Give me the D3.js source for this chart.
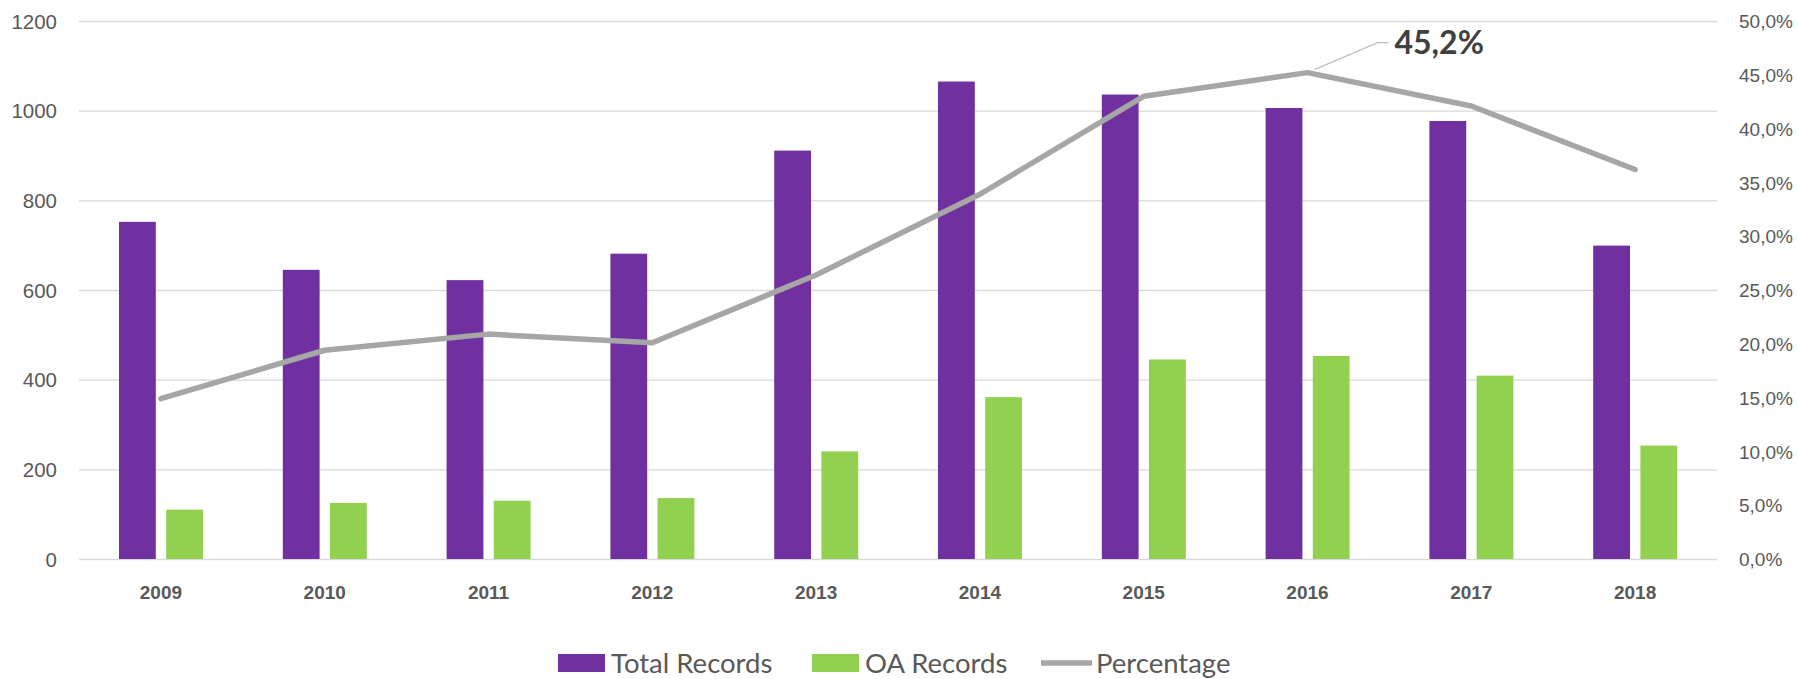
<!DOCTYPE html>
<html>
<head>
<meta charset="utf-8">
<script src="https://cdn.jsdelivr.net/npm/d3@7"></script>
<style>
  html, body { margin: 0; padding: 0; background: #fff; }
  svg { display: block; font-family: Lato, "Open Sans", sans-serif; }
</style>
</head>
<body>
<svg id="chart" width="1798" height="679"></svg>
<script>
const years = ["2009","2010","2011","2012","2013","2014","2015","2016","2017","2018"];
const totalRecords = [752, 645, 622, 681, 911, 1065, 1036, 1006, 977, 699];
const oaRecords = [110, 125, 130, 136, 240, 361, 445, 453, 409, 253];
const percentage = [0.149, 0.194, 0.209, 0.201, 0.264, 0.339, 0.430, 0.452, 0.421, 0.362];
const leftTicks = [0, 200, 400, 600, 800, 1000, 1200];
const rightTicks = [0, 0.05, 0.10, 0.15, 0.20, 0.25, 0.30, 0.35, 0.40, 0.45, 0.50];
const seriesNames = ["Total Records", "OA Records", "Percentage"];
const highlightIndex = 7;

(function () {
const colors = { total: "#7030a0", oa: "#92d050", line: "#a6a6a6", grid: "#d9d9d9", text: "#595959" };

const svg = d3.select("#chart");
const mLeft = 79, mRight = 1717, mTop = 21, mBottom = 559;

const x = d3.scaleBand().domain(years).range([mLeft, mRight]).paddingInner(0).paddingOuter(0);
const xSub = d3.scaleBand().domain(["total", "oa"]).range([40, 124]).paddingInner(0.22).paddingOuter(0);
const y = d3.scaleLinear().domain([0, 1200]).range([mBottom, mTop]);
const yPct = d3.scaleLinear().domain([0, 0.5]).range([mBottom, mTop]);

const locale = d3.formatLocale({ decimal: ",", thousands: ".", grouping: [3], currency: ["", "€"] });
const pctFmt = locale.format(".1%");

// gridlines
svg.append("g")
  .attr("transform", `translate(${mLeft},0)`)
  .call(d3.axisLeft(y).tickValues(leftTicks).tickSize(-(mRight - mLeft)).tickFormat(""))
  .call(g => g.select(".domain").remove())
  .call(g => g.selectAll("line").attr("stroke", colors.grid).attr("stroke-width", 1.3));

// left axis labels
svg.append("g")
  .attr("transform", `translate(${mLeft - 4},0)`)
  .call(d3.axisLeft(y).tickValues(leftTicks).tickSize(0).tickPadding(18).tickFormat(d3.format("d")))
  .call(g => g.select(".domain").remove())
  .call(g => g.selectAll("text").attr("fill", colors.text).style("font-size", "20.5px").attr("dy", "0.35em"));

// right axis labels
svg.append("g")
  .attr("transform", `translate(${mRight},0)`)
  .call(d3.axisRight(yPct).tickValues(rightTicks).tickSize(0).tickPadding(22).tickFormat(pctFmt))
  .call(g => g.select(".domain").remove())
  .call(g => g.selectAll("text").attr("fill", colors.text).style("font-size", "19px").attr("dy", "0.35em"));

// x axis labels
svg.append("g")
  .attr("transform", `translate(0,${mBottom})`)
  .call(d3.axisBottom(x).tickSize(0).tickPadding(40))
  .call(g => g.select(".domain").remove())
  .call(g => g.selectAll("text").attr("fill", colors.text).style("font-size", "19px").style("font-weight", "bold").attr("dy", "0"));

// bars
const bars = svg.append("g");
bars.selectAll("rect.total").data(years).join("rect")
  .attr("class", "total")
  .attr("x", (d) => x(d) + xSub("total"))
  .attr("width", xSub.bandwidth())
  .attr("y", (d, i) => y(totalRecords[i]))
  .attr("height", (d, i) => y(0) - y(totalRecords[i]))
  .attr("fill", colors.total);
bars.selectAll("rect.oa").data(years).join("rect")
  .attr("class", "oa")
  .attr("x", (d) => x(d) + xSub("oa"))
  .attr("width", xSub.bandwidth())
  .attr("y", (d, i) => y(oaRecords[i]))
  .attr("height", (d, i) => y(0) - y(oaRecords[i]))
  .attr("fill", colors.oa);

// line
const lineGen = d3.line()
  .x((d, i) => x(years[i]) + x.bandwidth() / 2)
  .y(d => yPct(d));
svg.append("path")
  .datum(percentage)
  .attr("d", lineGen)
  .attr("fill", "none")
  .attr("stroke", colors.line)
  .attr("stroke-width", 5.5)
  .attr("stroke-linejoin", "round")
  .attr("stroke-linecap", "round");

// highlight label with leader
const px = x(years[highlightIndex]) + x.bandwidth() / 2;
const py = yPct(percentage[highlightIndex]);
svg.append("path")
  .attr("d", `M${px + 7},${py - 3} L${px + 70},${py - 30} L${px + 81},${py - 30}`)
  .attr("fill", "none")
  .attr("stroke", "#bfbfbf")
  .attr("stroke-width", 1.3);
svg.append("text")
  .attr("x", px + 87)
  .attr("y", py - 19)
  .attr("fill", "#404040")
  .style("font-size", "32px")
  .style("font-weight", "bold")
  .text(pctFmt(percentage[highlightIndex]));

// legend
const legend = svg.append("g");
const ly = 663;
const items = [
  { name: seriesNames[0], type: "rect", color: colors.total, x: 558 },
  { name: seriesNames[1], type: "rect", color: colors.oa, x: 812 },
  { name: seriesNames[2], type: "line", color: colors.line, x: 1041 }
];
items.forEach(it => {
  if (it.type === "rect") {
    legend.append("rect").attr("x", it.x).attr("y", ly - 9).attr("width", 47).attr("height", 18).attr("fill", it.color);
  } else {
    legend.append("line").attr("x1", it.x).attr("x2", it.x + 51).attr("y1", ly).attr("y2", ly)
      .attr("stroke", it.color).attr("stroke-width", 5.5);
  }
  legend.append("text")
    .attr("x", it.x + (it.type === "rect" ? 53 : 55))
    .attr("y", ly)
    .attr("dy", "0.36em")
    .attr("fill", colors.text)
    .style("font-size", "27.5px")
    .text(it.name);
});
})();
</script>
</body>
</html>
